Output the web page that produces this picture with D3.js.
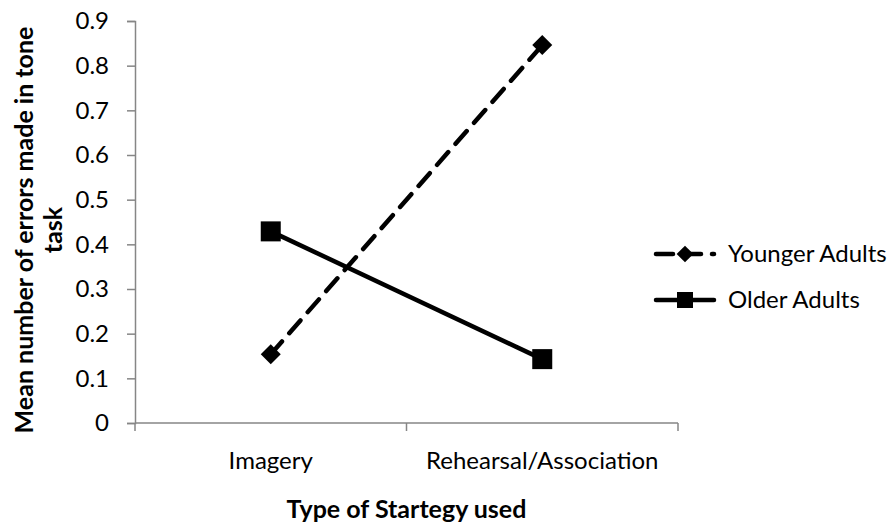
<!DOCTYPE html>
<html>
<head>
<meta charset="utf-8">
<script src="https://cdn.jsdelivr.net/npm/d3@7"></script>
<style>
  body { margin: 0; background: #fff; }
  text { font-family: Lato, "Open Sans", sans-serif; fill: #000; }
</style>
</head>
<body>
<div id="chart"></div>
<script>
var categories = ['Imagery', 'Rehearsal/Association'];
var younger = [0.154, 0.846];
var older = [0.429, 0.143];
var seriesNames = ['Younger Adults', 'Older Adults'];
var yTicks = [0, 0.1, 0.2, 0.3, 0.4, 0.5, 0.6, 0.7, 0.8, 0.9];

var margin = {top: 21, right: 216, bottom: 103, left: 135},
    width = 894 - margin.left - margin.right,
    height = 526 - margin.top - margin.bottom;

var svg = d3.select('#chart').append('svg')
    .attr('width', 894)
    .attr('height', 526)
    .append('g')
    .attr('transform', 'translate(' + margin.left + ',' + margin.top + ')');

var x = d3.scaleBand().domain(categories).range([0, width]);
var y = d3.scaleLinear().domain([0, 0.9]).range([height, 0]);

// y axis
var yAxis = d3.axisLeft(y).tickValues(yTicks).tickSize(8).tickPadding(18)
    .tickFormat(function(d) { return d === 0 ? '0' : d3.format('.1f')(d); });
var gy = svg.append('g').call(yAxis);
gy.select('.domain').attr('stroke', '#868686').attr('stroke-width', 1.5);
gy.selectAll('.tick line').attr('stroke', '#868686').attr('stroke-width', 1.5);
gy.selectAll('.tick text').attr('font-size', '24px').attr('font-family', 'Lato, sans-serif');

// x axis: ticks at category boundaries
var gx = svg.append('g').attr('transform', 'translate(0,' + height + ')');
gx.append('line').attr('x1', 0).attr('x2', width).attr('y1', 0).attr('y2', 0)
    .attr('stroke', '#868686').attr('stroke-width', 1.5);
gx.selectAll('.bt').data([0, width / 2, width]).enter().append('line')
    .attr('x1', function(d) { return d; }).attr('x2', function(d) { return d; })
    .attr('y1', 0).attr('y2', 8)
    .attr('stroke', '#868686').attr('stroke-width', 1.5);
gx.selectAll('.lab').data(categories).enter().append('text')
    .attr('x', function(d) { return x(d) + x.bandwidth() / 2; })
    .attr('y', 46)
    .attr('text-anchor', 'middle')
    .attr('font-size', '24px')
    .text(function(d) { return d; });

// lines
var line = d3.line()
    .x(function(d, i) { return x(categories[i]) + x.bandwidth() / 2; })
    .y(function(d) { return y(d); });

svg.append('path').datum(younger)
    .attr('d', line)
    .attr('fill', 'none').attr('stroke', '#000').attr('stroke-width', 4.5)
    .attr('stroke-dasharray', '17,11').attr('stroke-linecap', 'round');

svg.append('path').datum(older)
    .attr('d', line)
    .attr('fill', 'none').attr('stroke', '#000').attr('stroke-width', 4.5);

svg.selectAll('.dia').data(younger).enter().append('path')
    .attr('d', d3.symbol().type(d3.symbolSquare).size(200))
    .attr('transform', function(d, i) {
        return 'translate(' + (x(categories[i]) + x.bandwidth() / 2) + ',' + y(d) + ') rotate(45)';
    })
    .attr('fill', '#000');

svg.selectAll('.sq').data(older).enter().append('rect')
    .attr('x', function(d, i) { return x(categories[i]) + x.bandwidth() / 2 - 10; })
    .attr('y', function(d) { return y(d) - 10; })
    .attr('width', 20).attr('height', 20)
    .attr('fill', '#000');

// axis titles
svg.append('text')
    .attr('x', width / 2).attr('y', height + 95)
    .attr('text-anchor', 'middle')
    .attr('font-size', '25px').attr('font-weight', 'bold')
    .text('Type of Startegy used');

var yt = svg.append('text')
    .attr('transform', 'translate(-102,' + (height / 2 + 8) + ') rotate(-90)')
    .attr('text-anchor', 'middle')
    .attr('font-size', '25px').attr('font-weight', 'bold');
yt.append('tspan').attr('x', 0).attr('dy', 0).text('Mean number of errors made in tone');
yt.append('tspan').attr('x', 0).attr('dy', 29).text('task');

// legend
var legend = svg.append('g').attr('transform', 'translate(' + (width - 22) + ',' + 233 + ')');
var leg = legend.selectAll('.leg').data(seriesNames).enter().append('g')
    .attr('transform', function(d, i) { return 'translate(0,' + (i * 46) + ')'; });
leg.append('line').attr('x1', 0).attr('x2', 58).attr('y1', 0).attr('y2', 0)
    .attr('stroke', '#000').attr('stroke-width', 4.5)
    .attr('stroke-linecap', 'round')
    .attr('stroke-dasharray', function(d, i) { return i === 0 ? '17,11' : null; });
leg.append('path')
    .attr('d', function(d, i) {
        return d3.symbol().type(d3.symbolSquare).size(i === 0 ? 140 : 256)();
    })
    .attr('transform', function(d, i) { return 'translate(29,0)' + (i === 0 ? ' rotate(45)' : ''); })
    .attr('fill', '#000');
leg.append('text').attr('x', 72).attr('y', 8)
    .attr('font-size', '24px')
    .text(function(d) { return d; });
</script>
</body>
</html>
